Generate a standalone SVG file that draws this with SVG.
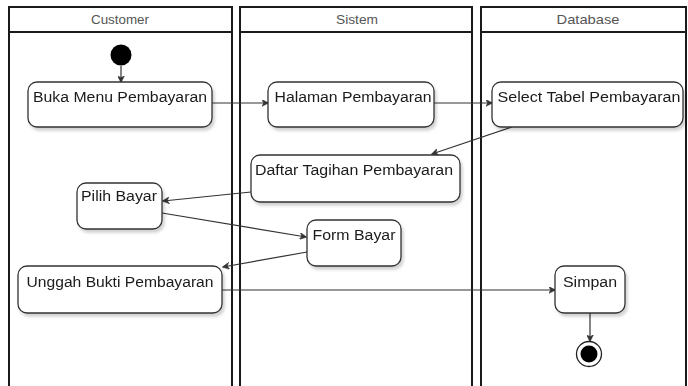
<svg xmlns="http://www.w3.org/2000/svg" width="688" height="386" viewBox="0 0 688 386">
  <defs>
    <style>
      .lane { fill: none; stroke: #1a1a1a; stroke-width: 2; }
      .lane-title { font-family: "Liberation Sans", Arial, sans-serif; font-size: 13px; fill: #555; text-anchor: middle; }
      .act { fill: #ffffff; stroke: #333; stroke-width: 1.3; }
      .act-label { font-family: "Liberation Sans", Arial, sans-serif; font-size: 14px; fill: #1a1a1a; text-anchor: middle; }
      .flow { fill: none; stroke: #333; stroke-width: 1.2; marker-end: url(#arrow); }
    </style>
    <marker id="arrow" viewBox="0 0 10 10" refX="9" refY="5" markerWidth="7" markerHeight="7" orient="auto" markerUnits="userSpaceOnUse">
      <path d="M0,0 L10,5 L0,10 L3,5 Z" fill="#333" stroke="#333" stroke-width="0.8"/>
    </marker>
    <filter id="shadow" x="-10%" y="-10%" width="130%" height="140%">
      <feDropShadow dx="2" dy="3" stdDeviation="1.5" flood-color="#000" flood-opacity="0.18"/>
    </filter>
  </defs>

  <rect width="688" height="386" fill="#ffffff"/>

  <!-- swimlanes -->
  <g id="lane-customer">
    <path class="lane" d="M9,400 V7 H232 V400 M9,32 H232"/>
    <text class="lane-title" x="120" y="24" textLength="58" lengthAdjust="spacingAndGlyphs">Customer</text>
  </g>
  <g id="lane-sistem">
    <path class="lane" d="M240,400 V7 H472 V400 M240,32 H472"/>
    <text class="lane-title" x="357" y="24" textLength="42" lengthAdjust="spacingAndGlyphs">Sistem</text>
  </g>
  <g id="lane-database">
    <path class="lane" d="M481,400 V7 H686 V400 M481,32 H686"/>
    <text class="lane-title" x="588" y="24" textLength="63" lengthAdjust="spacingAndGlyphs">Database</text>
  </g>

  <!-- connectors -->
  <g id="connectors">
    <path class="flow" d="M121,66 V82"/>
    <path class="flow" d="M212,103 H268"/>
    <path class="flow" d="M434,103 H492"/>
    <path class="flow" d="M512,127 L432,154"/>
    <path class="flow" d="M251,192 L163,201"/>
    <path class="flow" d="M162,213 L306,237"/>
    <path class="flow" d="M307,252 L223,267"/>
    <path class="flow" d="M222,290 H555"/>
    <path class="flow" d="M590,313 V341"/>
  </g>

  <!-- activity nodes -->
  <g id="start">
    <circle cx="121" cy="55" r="10.5" fill="#000"/>
  </g>
  <g id="buka-menu" filter="url(#shadow)">
    <rect class="act" x="28" y="82" width="184" height="45" rx="9"/>
    <text class="act-label" x="120" y="102" textLength="174" lengthAdjust="spacingAndGlyphs">Buka Menu Pembayaran</text>
  </g>
  <g id="halaman-pembayaran" filter="url(#shadow)">
    <rect class="act" x="268" y="82" width="166" height="45" rx="9"/>
    <text class="act-label" x="353" y="102" textLength="157" lengthAdjust="spacingAndGlyphs">Halaman Pembayaran</text>
  </g>
  <g id="select-tabel" filter="url(#shadow)">
    <rect class="act" x="492" y="82" width="191" height="45" rx="9"/>
    <text class="act-label" x="589" y="102" textLength="183" lengthAdjust="spacingAndGlyphs">Select Tabel Pembayaran</text>
  </g>
  <g id="daftar-tagihan" filter="url(#shadow)">
    <rect class="act" x="251" y="155" width="209" height="47" rx="9"/>
    <text class="act-label" x="354" y="175" textLength="198" lengthAdjust="spacingAndGlyphs">Daftar Tagihan Pembayaran</text>
  </g>
  <g id="pilih-bayar" filter="url(#shadow)">
    <rect class="act" x="77" y="183" width="85" height="46" rx="9"/>
    <text class="act-label" x="119" y="201" textLength="76" lengthAdjust="spacingAndGlyphs">Pilih Bayar</text>
  </g>
  <g id="form-bayar" filter="url(#shadow)">
    <rect class="act" x="307" y="220" width="94" height="46" rx="9"/>
    <text class="act-label" x="354" y="240" textLength="83" lengthAdjust="spacingAndGlyphs">Form Bayar</text>
  </g>
  <g id="unggah-bukti" filter="url(#shadow)">
    <rect class="act" x="18" y="266" width="204" height="47" rx="9"/>
    <text class="act-label" x="120" y="287" textLength="187" lengthAdjust="spacingAndGlyphs">Unggah Bukti Pembayaran</text>
  </g>
  <g id="simpan" filter="url(#shadow)">
    <rect class="act" x="555" y="266" width="70" height="47" rx="9"/>
    <text class="act-label" x="590" y="287" textLength="54" lengthAdjust="spacingAndGlyphs">Simpan</text>
  </g>
  <g id="end">
    <circle cx="589" cy="354" r="12.5" fill="#fff" stroke="#222" stroke-width="1.3"/>
    <circle cx="589" cy="354" r="8.5" fill="#000"/>
  </g>
</svg>
